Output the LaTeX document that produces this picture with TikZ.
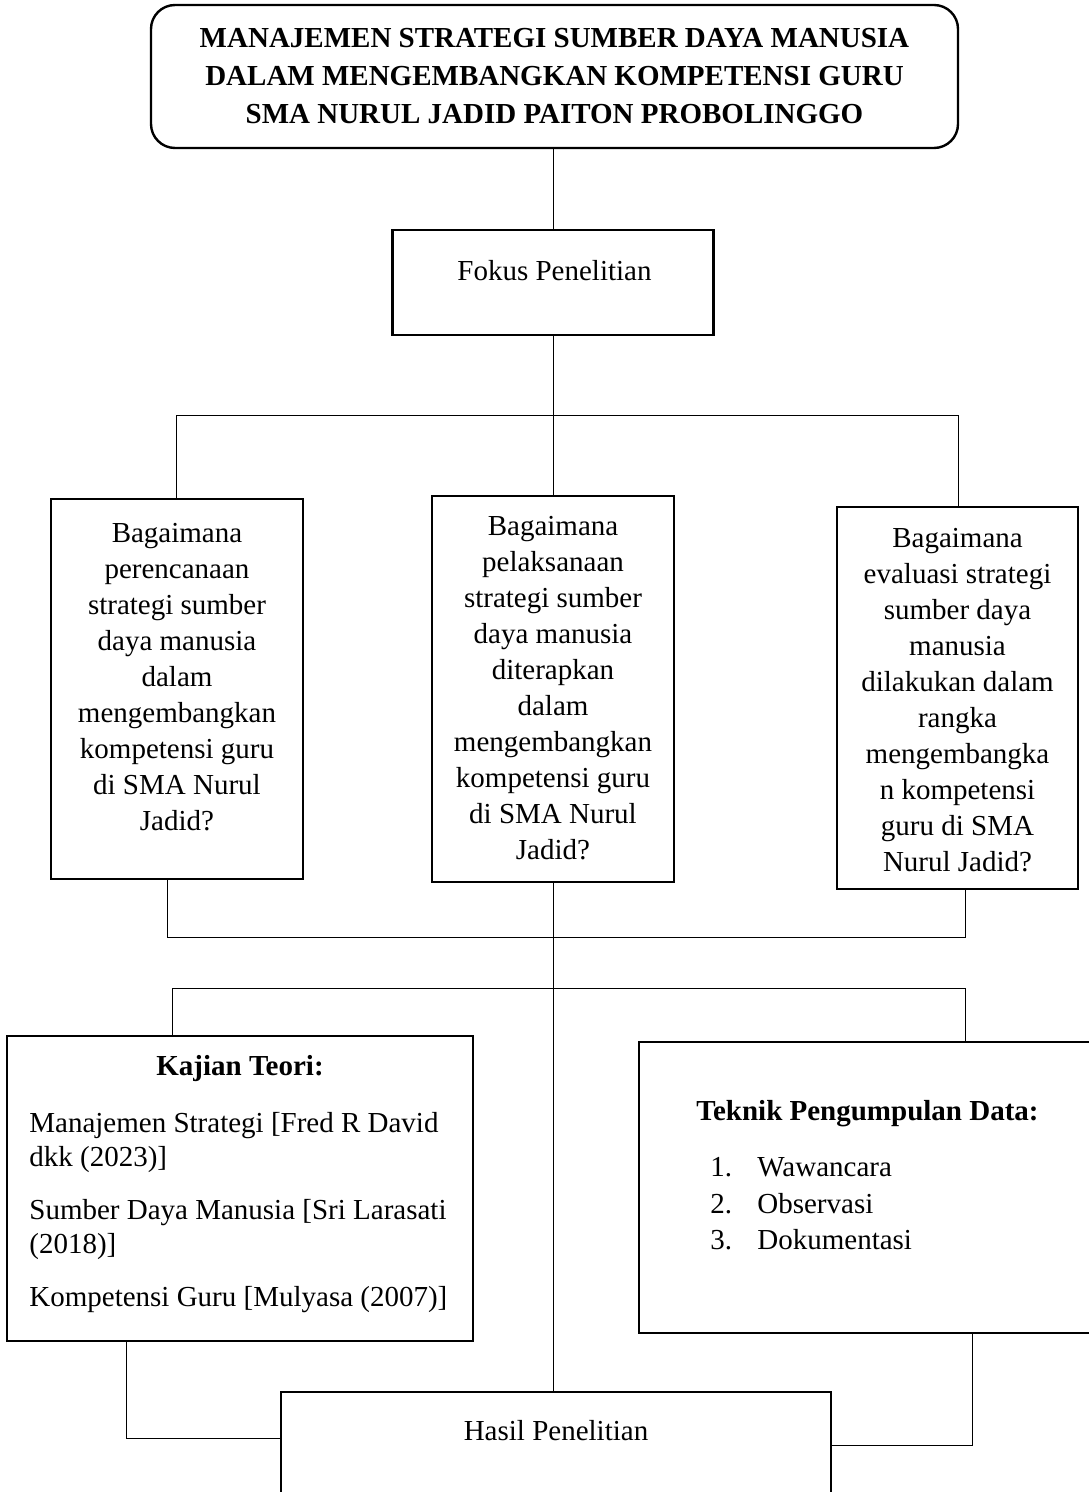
\documentclass[tikz,border=0pt]{standalone}
\usepackage{fontspec}
\setmainfont{Liberation Serif}
\usetikzlibrary{positioning}

\begin{document}
\begin{tikzpicture}[
    x=0.5pt, y=-0.5pt,
    font=\fontsize{14.5pt}{18pt}\selectfont,
    box/.style={rectangle, draw, line width=1.2pt, inner sep=0pt},
    judulbox/.style={box, rounded corners=12pt, align=center, font=\fontsize{14.5pt}{19pt}\selectfont\bfseries},
    teks/.style={align=center, inner sep=0pt, anchor=north},
    tebal/.style={font=\fontsize{14.5pt}{18pt}\selectfont\bfseries},
    garis/.style={line width=0.5pt}
]
    \useasboundingbox (0,0) rectangle (1088,1492);

    % judul dan fokus
    \node[judulbox, minimum width=403.5pt, minimum height=71.5pt] (judul) at (554.5,76.5)
        {MANAJEMEN STRATEGI SUMBER DAYA MANUSIA\\
         DALAM MENGEMBANGKAN KOMPETENSI GURU\\
         SMA NURUL JADID PAITON PROBOLINGGO};
    \node[box, minimum width=160.5pt, minimum height=52.5pt] (fokus) at (553,282.5) {};
    \node[teks, anchor=base] (fokusteks) at (554.5,281) {Fokus Penelitian};

    % tiga rumusan masalah
    \node[box, minimum width=126pt, minimum height=190pt] (q1) at (177,689) {};
    \node[box, minimum width=121pt, minimum height=193pt] (q2) at (553,689) {};
    \node[box, minimum width=120.5pt, minimum height=191pt] (q3) at (957.5,698) {};
    \node[teks] (q1teks) at (177,523) {Bagaimana\\perencanaan\\strategi sumber\\daya manusia\\dalam\\mengembangkan\\kompetensi guru\\di SMA Nurul\\Jadid?};
    \node[teks] (q2teks) at (553,516) {Bagaimana\\pelaksanaan\\strategi sumber\\daya manusia\\diterapkan\\dalam\\mengembangkan\\kompetensi guru\\di SMA Nurul\\Jadid?};
    \node[teks] (q3teks) at (957.5,528) {Bagaimana\\evaluasi strategi\\sumber daya\\manusia\\dilakukan dalam\\rangka\\mengembangka\\n kompetensi\\guru di SMA\\Nurul Jadid?};

    % kajian teori dan teknik pengumpulan data
    \node[box, minimum width=233pt, minimum height=152.5pt] (kajian) at (240,1188.5) {};
    \node[teks, tebal, anchor=base] (kajianjudul) at (240,1075) {Kajian Teori:};
    \node[teks, anchor=north west, align=left, font=\fontsize{14.5pt}{16.75pt}\selectfont] (kajianisi) at (29,1112)
        {Manajemen Strategi [Fred R David\\dkk (2023)]\\[10pt]Sumber Daya Manusia [Sri Larasati\\(2018)]\\[10pt]Kompetensi Guru [Mulyasa (2007)]};
    \node[box, minimum width=225.5pt, minimum height=145.5pt] (teknik) at (864.5,1187.5) {};
    \node[teks, tebal, anchor=base] (teknikjudul) at (867.5,1120) {Teknik Pengumpulan Data:};
    \node[teks, anchor=north west, align=left, font=\fontsize{14.5pt}{18.25pt}\selectfont] (teknikisi) at (710,1157)
        {\makebox[23.5pt][l]{1.}Wawancara\\\makebox[23.5pt][l]{2.}Observasi\\\makebox[23.5pt][l]{3.}Dokumentasi};

    % hasil
    \node[box, minimum width=275pt, minimum height=84pt] (hasil) at (556,1476) {};
    \node[teks, anchor=base] (hasilteks) at (556,1440) {Hasil Penelitian};

    % garis penghubung
    \coordinate (cabang1) at (176,415);
    \coordinate (cabang2) at (958,415);
    \coordinate (temu1) at (167,937);
    \coordinate (temu2) at (965,937);
    \coordinate (cabang3) at (172,988);
    \coordinate (cabang4) at (965,988);
    \coordinate (sudut1) at (126,1438);
    \coordinate (sudut2) at (972,1445);
    \draw[garis] (fokus.north |- judul.south) -- (fokus.north);
    \draw[garis] (fokus.south) -- (q2.north);
    \draw[garis] (q1.north -| cabang1) -- (cabang1) -- (cabang2) -- (q3.north -| cabang2);
    \draw[garis] (q1.south -| temu1) -- (temu1) -- (temu2) -- (q3.south -| temu2);
    \draw[garis] (q2.south) -- (q2.south |- hasil.north);
    \draw[garis] (kajian.north -| cabang3) -- (cabang3) -- (cabang4) -- (teknik.north -| cabang4);
    \draw[garis] (kajian.south -| sudut1) -- (sudut1) -- (hasil.west |- sudut1);
    \draw[garis] (teknik.south -| sudut2) -- (sudut2) -- (hasil.east |- sudut2);
\end{tikzpicture}
\end{document}
